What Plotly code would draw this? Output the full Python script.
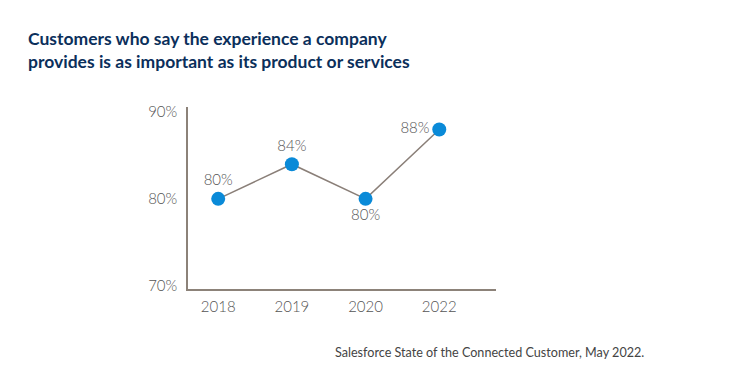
import plotly.graph_objects as go

years = ["2018", "2019", "2020", "2022"]
values = [80, 84, 80, 88]
labels = ["80%", "84%", "80%", "88%"]
label_pos = ["top center", "top center", "bottom center", "middle left"]
y_ticks = [70, 80, 90]
y_tick_text = ["70%", "80%", "90%"]

# page body has an 8px margin; compensate
OFF = 8
L, R, T, B = 188 - OFF, 496 - OFF, 107 - OFF, 289 - OFF
W, H = 752, 379
PW, PH = R - L, B - T

fig = go.Figure()
fig.add_trace(go.Scatter(
    x=years, y=values, mode="lines+markers+text",
    text=labels, textposition=label_pos,
    textfont=dict(family="Lato, sans-serif", size=15, color="#555555", weight=300),
    line=dict(color="#8a7f78", width=1.5),
    marker=dict(color="#0a8ad8", size=14),
    cliponaxis=False, showlegend=False,
))

fig.update_layout(
    width=W, height=H,
    margin=dict(l=L, r=W - R, t=T, b=H - B),
    paper_bgcolor="white", plot_bgcolor="white",
    xaxis=dict(type="category", range=[-0.41, 3.77], showgrid=False, zeroline=False,
               showline=True, linecolor="#8c8279", linewidth=1.5,
               ticks="", tickfont=dict(family="Lato, sans-serif", size=15, color="#555555", weight=300),
               ticklabelstandoff=3),
    yaxis=dict(range=[69.6, 90.6], tickvals=y_ticks, ticktext=y_tick_text,
               showgrid=False, zeroline=False, showline=True, linecolor="#8c8279",
               linewidth=1.5, ticks="",
               tickfont=dict(family="Lato, sans-serif", size=15, color="#555555", weight=300),
               ticklabelstandoff=6),
    annotations=[
        dict(text="<b>Customers who say the experience a company<br>provides is as important as its product or services</b>",
             xref="paper", yref="paper", x=(26 - OFF - L) / PW, y=1 + (T - (26 - OFF)) / PH,
             xanchor="left", yanchor="top", align="left", showarrow=False,
             font=dict(family="Lato, sans-serif", size=17.5, color="#0b2f5b")),
        dict(text="Salesforce State of the Connected Customer, May 2022.",
             xref="paper", yref="paper", x=(333 - OFF - L) / PW, y=-((352 - OFF) - B) / PH,
             xanchor="left", yanchor="middle", showarrow=False,
             font=dict(family="Lato, sans-serif", size=12.6, color="#444444")),
    ],
)

fig.write_html("out.html")
